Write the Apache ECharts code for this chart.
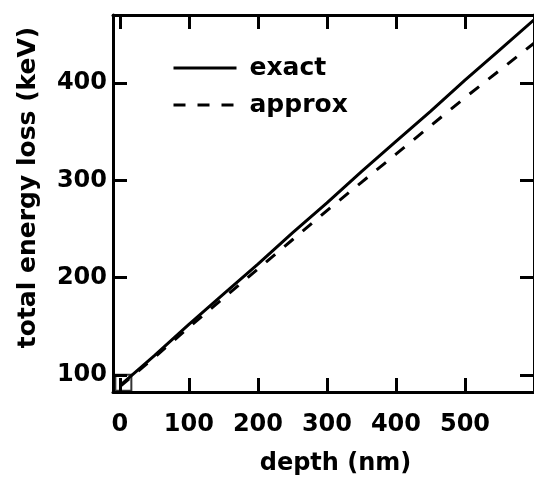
<!DOCTYPE html>
<html>
<head>
<meta charset="utf-8">
<script src="https://cdn.jsdelivr.net/npm/echarts@6/dist/echarts.min.js"></script>
<style>
  html, body { margin: 0; padding: 0; background: #fff; }
  #chart { width: 534px; height: 484px; }
</style>
</head>
<body>
<div id="chart"></div>
<script>
// depth in nm
var depth = [0, 50, 100, 150, 200, 250, 300, 350, 400, 450, 500, 550, 600];
// total energy loss (keV)
var exactLoss = [89, 120, 152, 183, 214, 246, 277, 309, 340, 371, 403, 434, 465];
var approxLoss = [88, 118, 149, 179, 209, 239, 269, 298, 327, 356, 385, 413, 441];
var startPoint = [[5, 92]];

var xTicks = [0, 100, 200, 300, 400, 500];
var yTicks = [100, 200, 300, 400];

function pairs(xs, ys) {
    return xs.map(function (x, i) { return [x, ys[i]]; });
}

var fontFamily = 'DejaVu Sans';
var black = '#000';

var myChart = echarts.init(document.getElementById('chart'));

var axisLine = { show: true, onZero: false, lineStyle: { color: black, width: 3 } };
var axisTick = { show: true, inside: true, length: 14, lineStyle: { color: black, width: 3 } };

var option = {
    animation: false,
    backgroundColor: '#fff',
    grid: { left: 113, top: 15, width: 425, height: 377 },
    legend: {
        data: ['exact', 'approx'],
        orient: 'vertical',
        left: 167,
        top: 50,
        itemWidth: 63,
        itemHeight: 14,
        itemGap: 11,
        itemStyle: { opacity: 0 },
        lineStyle: { width: 3, color: black },
        textStyle: {
            fontFamily: fontFamily, fontWeight: 'bold', fontSize: 25,
            color: black, lineHeight: 26, padding: [0, 0, 0, 8]
        }
    },
    xAxis: [{
        type: 'value',
        position: 'bottom',
        min: -10,
        max: 600,
        splitLine: { show: false },
        axisLine: axisLine,
        axisTick: Object.assign({ customValues: xTicks }, axisTick),
        axisLabel: {
            customValues: xTicks,
            margin: 21,
            fontFamily: fontFamily, fontWeight: 'bold', fontSize: 24, color: black
        },
        name: 'depth (nm)',
        nameLocation: 'middle',
        nameGap: 60,
        nameTextStyle: {
            fontFamily: fontFamily, fontWeight: 'bold', fontSize: 24, color: black,
            padding: [0, 0, 0, 24]
        }
    }, {
        type: 'value',
        position: 'top',
        min: -10,
        max: 600,
        splitLine: { show: false },
        axisLine: axisLine,
        axisTick: Object.assign({ customValues: xTicks }, axisTick),
        axisLabel: { show: false }
    }],
    yAxis: [{
        type: 'value',
        position: 'left',
        min: 82.5,
        max: 470,
        splitLine: { show: false },
        axisLine: axisLine,
        axisTick: Object.assign({ customValues: yTicks }, axisTick),
        axisLabel: {
            customValues: yTicks,
            margin: 6,
            fontFamily: fontFamily, fontWeight: 'bold', fontSize: 24, color: black
        },
        name: 'total energy loss (keV)',
        nameLocation: 'middle',
        nameGap: 72,
        nameTextStyle: {
            fontFamily: fontFamily, fontWeight: 'bold', fontSize: 25, color: black,
            padding: [0, 0, 0, 32]
        }
    }, {
        type: 'value',
        position: 'right',
        min: 82.5,
        max: 470,
        splitLine: { show: false },
        axisLine: axisLine,
        axisTick: Object.assign({ customValues: yTicks }, axisTick),
        axisLabel: { show: false }
    }],
    series: [{
        name: 'exact',
        type: 'line',
        data: pairs(depth, exactLoss),
        symbol: 'none',
        lineStyle: { color: black, width: 3, type: 'solid' },
        itemStyle: { color: black }
    }, {
        name: 'approx',
        type: 'line',
        data: pairs(depth, approxLoss),
        symbol: 'none',
        lineStyle: { color: black, width: 3, type: [12, 12] },
        itemStyle: { color: black }
    }, {
        name: 'start',
        type: 'scatter',
        data: startPoint,
        symbol: 'rect',
        symbolSize: 16,
        itemStyle: { color: 'rgba(255,255,255,0)', borderColor: black, borderWidth: 2 }
    }]
};

myChart.setOption(option);
</script>
</body>
</html>
